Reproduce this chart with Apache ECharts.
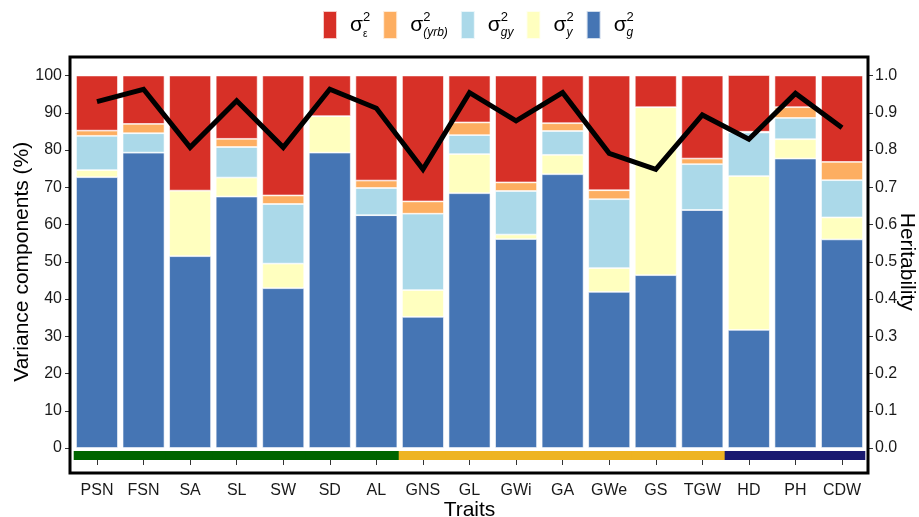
<!DOCTYPE html>
<html>
<head>
<meta charset="utf-8">
<script src="https://cdn.jsdelivr.net/npm/echarts@6/dist/echarts.min.js"></script>
<style>html,body{margin:0;padding:0;background:#fff;}#c{width:919px;height:517px;}</style>
</head>
<body>
<div id="c"></div>
<script>
// ---- data ----
const traits = ['PSN','FSN','SA','SL','SW','SD','AL','GNS','GL','GWi','GA','GWe','GS','TGW','HD','PH','CDW'];
const sigmaG   = [72.7,79.3,51.5,67.5,42.9,79.3,62.5,35.2,68.4,56.1,73.5,41.9,46.4,63.9,31.7,77.7,56.0];
const sigmaY   = [1.9,0.0,17.6,5.1,6.6,9.8,0.0,7.2,10.5,1.2,5.2,6.4,45.1,0.0,41.3,5.2,5.9];
const sigmaGY  = [9.2,5.2,0.0,8.2,16.0,0.0,7.3,20.5,5.1,11.7,6.4,18.5,0.0,12.3,11.7,5.7,10.0];
const sigmaYRB = [1.4,2.5,0.0,2.2,2.3,0.0,2.0,3.3,3.4,2.3,2.1,2.4,0.0,1.5,0.2,2.9,4.9];
const sigmaE   = [14.8,13.0,30.9,17.0,32.2,10.9,28.2,33.8,12.6,28.7,12.8,30.8,8.5,22.3,15.2,8.5,23.2];
const heritability = [0.930,0.963,0.807,0.932,0.807,0.963,0.912,0.748,0.954,0.878,0.954,0.791,0.748,0.894,0.829,0.952,0.860];
const traitGroup = [0,0,0,0,0,0,0,1,1,1,1,1,1,1,2,2,2];
const leftTicks = {min:0, max:100, interval:10};
const rightTicks = {min:0, max:1, interval:0.1};

// ---- styles ----
const FONT = 'Liberation Sans, Arial, sans-serif';
const groupColors = ['#006400','#EEB422','#191970'];
const compColors = {g:'#4575B4', y:'#FFFFBF', gy:'#ABD9E9', yrb:'#FDAE61', e:'#D73027'};
const legendSub = {e:'{e|ε}', yrb:'{d|(yrb)}', gy:'{d|gy}', y:'{d|y}', g:'{d|g}'};

const GL = 73.7, GR = 919 - 865.3;

const chart = echarts.init(document.getElementById('c'), null, {renderer:'canvas'});

function stackSeries(name, data){
  return {
    name: name, type:'bar', stack:'v', xAxisIndex:0, yAxisIndex:0,
    barWidth:'90%', data:data,
    itemStyle:{color:compColors[name], borderColor:'rgba(255,255,255,0.75)', borderWidth:0.8},
    emphasis:{disabled:true}, animation:false
  };
}

const option = {
  animation:false,
  textStyle:{fontFamily:FONT},
  legend:{
    data:['e','yrb','gy','y','g'],
    left:317, top:5, itemWidth:14, itemHeight:28, itemGap:12, icon:'rect',
    selectedMode:false,
    formatter: n => '{p|}{s|σ}{u|2}' + legendSub[n],
    textStyle:{
      color:'#000', fontFamily:FONT,
      rich:{
        p:{width:8},
        s:{fontSize:21, lineHeight:28, fontFamily:FONT, verticalAlign:'middle'},
        u:{fontSize:13, lineHeight:14, width:0, verticalAlign:'top', fontFamily:FONT},
        d:{fontSize:12, lineHeight:12, verticalAlign:'bottom', fontStyle:'italic', fontFamily:FONT},
        e:{fontSize:10, lineHeight:11, verticalAlign:'bottom', fontFamily:FONT}
      }
    }
  },
  grid:[
    {left:GL, right:GR, top:75.5, bottom:517-448, outerBoundsMode:'none', containLabel:false},
    {left:GL, right:GR, top:451, height:9, outerBoundsMode:'none', containLabel:false}
  ],
  xAxis:[
    {type:'category', gridIndex:0, data:traits, boundaryGap:true,
     axisLine:{show:false}, axisTick:{show:false}, axisLabel:{show:false}},
    {type:'category', gridIndex:1, data:traits, boundaryGap:true, offset:13,
     position:'bottom',
     axisLine:{show:false},
     axisTick:{show:true, alignWithLabel:true, length:5, lineStyle:{color:'#333', width:1}},
     axisLabel:{fontSize:16, color:'#1a1a1a', margin:10, fontFamily:FONT, interval:0},
     name:'Traits', nameLocation:'middle', nameGap:27, nameMoveOverlap:false,
     nameTextStyle:{fontSize:21, color:'#000', fontFamily:FONT}}
  ],
  yAxis:[
    {type:'value', gridIndex:0, position:'left', min:leftTicks.min, max:leftTicks.max, interval:leftTicks.interval,
     offset:3.7, axisLine:{show:false}, splitLine:{show:false},
     axisTick:{show:true, length:5, lineStyle:{color:'#333', width:1}},
     axisLabel:{fontSize:16, color:'#1a1a1a', margin:8, fontFamily:FONT},
     name:'Variance components (%)', nameLocation:'middle', nameGap:37, nameMoveOverlap:false,
     nameTextStyle:{fontSize:21, color:'#000', fontFamily:FONT}},
    {type:'value', gridIndex:0, position:'right', min:rightTicks.min, max:rightTicks.max, interval:rightTicks.interval,
     offset:2.7, axisLine:{show:false}, splitLine:{show:false},
     axisTick:{show:true, length:5, lineStyle:{color:'#333', width:1}},
     axisLabel:{fontSize:16, color:'#1a1a1a', margin:7, fontFamily:FONT, formatter:v=>v.toFixed(1)},
     name:'Heritability', nameLocation:'middle', nameGap:28, nameRotate:-90, nameMoveOverlap:false,
     nameTextStyle:{fontSize:21, color:'#000', fontFamily:FONT}},
    {type:'value', gridIndex:1, min:0, max:1, show:false}
  ],
  series:[
    stackSeries('g', sigmaG),
    stackSeries('y', sigmaY),
    stackSeries('gy', sigmaGY),
    stackSeries('yrb', sigmaYRB),
    stackSeries('e', sigmaE),
    {name:'Heritability', type:'line', xAxisIndex:0, yAxisIndex:1, data:heritability,
     showSymbol:false, symbol:'none', lineStyle:{color:'#000', width:5, join:'miter', cap:'butt'},
     z:10, emphasis:{disabled:true}},
    {name:'group', type:'bar', xAxisIndex:1, yAxisIndex:2, barWidth:'104%',
     data: traitGroup.map(g => ({value:1, itemStyle:{color:groupColors[g], borderWidth:0}})),
     itemStyle:{borderWidth:0}, emphasis:{disabled:true}}
  ],
  graphic:[
    {type:'rect', z:100, silent:true,
     shape:{x:70, y:57, width:798, height:416},
     style:{fill:null, stroke:'#000', lineWidth:3}}
  ]
};
chart.setOption(option);
</script>
</body>
</html>
